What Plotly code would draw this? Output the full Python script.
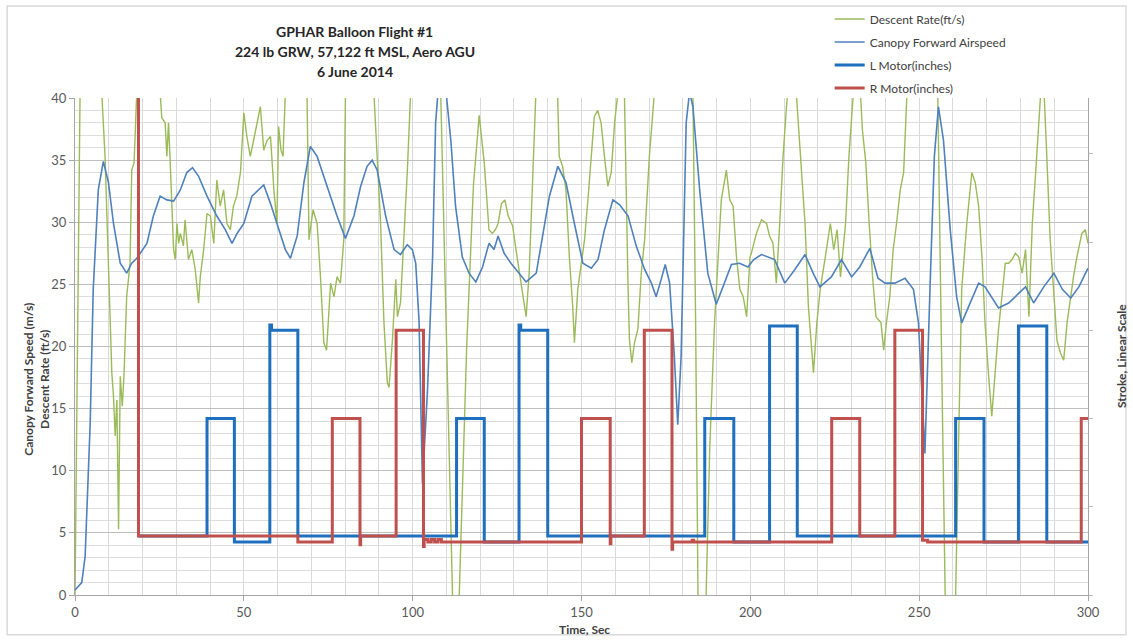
import plotly.graph_objects as go

# ---- Canopy forward airspeed (m/s) ----
airspeed_t = [0, 2.0, 3.0, 4.5, 5.4, 6.9, 8.4, 9.9, 11.4, 13.4, 15.3, 16.8, 18.3, 19.3, 21.3, 23.2,
              25.2, 27.2, 29.2, 31.2, 33.1, 34.8, 36.6, 39.1, 42.0, 44.5, 46.5, 48.0, 50.0, 52.4,
              54.4, 55.9, 57.9, 60.3, 62.3, 63.8, 65.8, 67.8, 69.7, 71.7, 73.7, 75.7, 77.6, 80.1,
              82.6, 84.6, 86.5, 88.0, 89.5, 92.0, 94.5, 96.4, 98.4, 99.9, 100.9, 101.9, 102.9,
              104.4, 105.9, 106.8, 107.8, 108.8, 109.7, 111.3, 112.7, 114.7, 116.7, 118.7, 120.7,
              122.6, 124.1, 125.3, 127.1, 129.1, 131.1, 133.6, 136.6, 138.5, 140.5, 143.0, 145.4,
              147.9, 150.4, 152.9, 154.9, 156.8, 159.3, 161.3, 163.8, 166.2, 168.7, 170.7, 172.1,
              173.6, 174.8, 176.1, 177.5, 178.5, 179.5, 181.0, 182.0, 183.0, 185.0, 187.4, 189.9,
              191.9, 194.4, 196.8, 199.3, 201.0, 203.3, 207.2, 210.2, 213.2, 216.2, 218.6, 220.6,
              224.0, 227.0, 230.0, 232.4, 235.4, 237.8, 239.9, 242.8, 245.8, 248.3, 249.8, 251.7,
              253.2, 254.5, 255.7, 257.2, 259.2, 261.1, 262.6, 264.6, 267.6, 269.5, 272.0, 273.5,
              276.5, 279.5, 281.5, 283.9, 286.9, 289.9, 292.4, 294.9, 297.3, 300.0]
airspeed = [0.4, 1.0, 3.1, 13.8, 24.6, 32.6, 34.9, 33.2, 29.9, 26.7, 25.9, 26.7, 27.1, 27.5, 28.3, 30.5,
            32.1, 31.8, 31.7, 32.6, 34.0, 34.4, 33.7, 32.1, 30.5, 29.4, 28.3, 29.1, 29.9, 32.1,
            32.6, 33.0, 31.5, 29.4, 27.8, 27.1, 28.9, 33.2, 36.1, 35.3, 33.7, 32.1, 30.5, 28.7,
            30.5, 32.9, 34.5, 35.0, 34.2, 30.5, 27.8, 27.4, 28.2, 27.8, 26.7, 22.0, 9.0,
            16.5, 27.2, 38.0, 41.5, 42.0, 41.0, 36.6, 31.3, 27.2, 25.9, 25.2, 26.4,
            28.3, 27.8, 28.9, 27.5, 26.7, 26.0, 25.2, 25.9, 28.9, 32.1, 34.5, 33.2,
            29.9, 26.7, 26.3, 27.0, 29.4, 31.8, 31.4, 30.5, 28.1, 26.2, 25.1, 24.0,
            25.4, 26.6, 25.1, 19.2, 13.7, 19.2, 38.0, 40.5, 39.3, 32.6, 25.9, 23.4,
            24.8, 26.6, 26.7, 26.4, 27.0, 27.4, 27.0, 25.1, 26.2, 27.4, 25.9, 24.8,
            25.6, 27.0, 25.6, 26.4, 27.9, 25.5, 25.1, 25.1, 25.5, 24.6, 21.9, 11.4,
            24.6, 35.3, 39.3, 36.6, 29.4, 24.0, 21.9, 23.2, 25.1, 24.8, 23.8, 23.1,
            23.5, 24.3, 24.8, 23.5, 24.8, 25.9, 24.6, 23.9, 24.8, 26.3]

# ---- Descent rate (ft/s) ----
descent_t = [0, 0.8, 1.5, 4.5, 7.9, 8.9, 9.9, 10.4, 10.9, 11.4, 11.9, 12.4, 12.9, 13.4, 14.0, 14.5,
             15.3, 16.3, 16.8, 17.5, 18.3, 21.7, 25.2, 25.7, 26.7, 27.2, 27.7, 28.2, 28.7, 29.2,
             29.7, 30.2, 30.7, 31.2, 32.1, 32.6, 33.6, 34.6, 35.6, 36.6, 37.1, 38.1, 39.1, 40.1,
             41.1, 42.0, 43.0, 44.0, 45.0, 46.0, 46.9, 47.9, 49.0, 50.0, 50.9, 51.9, 52.9, 53.9,
             54.9, 55.9, 56.9, 57.9, 58.9, 59.8, 60.3, 61.0, 61.6, 62.3, 65.5, 68.7, 69.3, 70.5,
             71.7, 72.7, 73.7, 74.5, 75.7, 76.7, 77.6, 78.6, 79.6, 80.1, 84.0, 88.5, 89.5, 90.5,
             91.5, 92.5, 93.0, 94.0, 95.0, 95.5, 96.4, 97.4, 98.4, 99.4, 104.0, 108.3, 110.0,
             111.8, 112.8, 113.8, 116.0, 118.0, 119.7, 121.2, 122.6, 123.6, 124.5, 125.3, 126.3,
             127.3, 128.3, 129.6, 130.6, 131.6, 132.5, 133.6, 134.5, 135.5, 136.5, 139.7, 142.9,
             143.4, 144.4, 145.4, 146.4, 147.4, 147.9, 148.9, 149.9, 150.9, 151.9, 152.9, 153.8,
             154.8, 155.8, 156.8, 157.8, 158.8, 159.8, 160.8, 161.7, 162.7, 163.2, 163.8, 164.2,
             164.9, 165.7, 166.7, 167.7, 168.7, 170.1, 171.6, 177.0, 183.0, 183.8, 184.5, 185.7,
             186.9, 188.0, 189.4, 191.4, 192.9, 193.9, 194.9, 195.9, 196.9, 197.9, 198.9, 199.9,
             200.3, 201.8, 203.3, 204.8, 205.7, 206.7, 207.7, 208.7, 209.7, 210.7, 212.5, 214.2,
             215.2, 216.2, 217.2, 218.2, 218.7, 219.7, 220.7, 222.2, 223.7, 224.7, 225.7, 226.7,
             228.2, 229.2, 230.2, 231.7, 233.2, 234.2, 235.2, 236.2, 237.2, 238.7, 239.5, 240.3,
             241.3, 242.3, 243.3, 244.4, 245.4, 246.4, 250.5, 255.5, 256.6, 257.7, 259.2, 260.8,
             261.8, 262.6, 264.1, 265.6, 266.6, 267.6, 268.6, 269.5, 270.5, 271.5, 272.5, 273.5,
             274.5, 275.5, 276.5, 277.5, 278.5, 279.5, 280.5, 281.5, 282.5, 283.5, 284.5, 285.4,
             286.6, 287.8, 288.8, 289.8, 290.8, 291.8, 292.8, 293.8, 294.8, 295.7, 296.7, 298.2,
             299.2, 300.0]
descent = [0, 20.0, 40.5, 50.0, 40.5, 35.3, 27.2, 21.9, 17.9, 16.0, 12.8, 15.7, 5.3, 17.6, 15.2, 17.6,
           24.0, 26.7, 34.2, 34.8, 40.5, 50.0, 40.5, 38.4, 38.0, 35.3, 38.0, 34.8, 31.3, 27.8,
           27.0, 29.9, 28.3, 29.1, 28.1, 30.2, 27.0, 27.8, 26.2, 23.5, 25.6, 27.8, 30.7, 30.5,
           28.3, 33.4, 31.3, 32.6, 29.9, 29.4, 31.3, 32.1, 34.0, 38.8, 36.9, 35.3, 36.6, 38.0,
           39.3, 35.8, 36.6, 36.9, 32.6, 29.9, 37.7, 35.8, 35.3, 40.5, 50.0, 40.5, 28.6, 31.0,
           29.9, 25.6, 20.3, 19.7, 25.1, 24.0, 25.6, 25.1, 28.6, 40.5, 50.0, 40.5, 35.3, 29.9,
           21.9, 17.1, 16.7, 20.5, 25.4, 22.4, 23.5, 28.6, 34.0, 40.5, 50.0, 40.5, 20.0,
           0, -4.0, 0, 20.0, 33.0, 38.6, 34.8, 29.4, 29.1, 29.4, 29.9, 31.5,
           31.8, 30.5, 29.7, 27.8, 25.9, 24.6, 22.4, 25.9, 32.6, 40.5, 50.0, 40.5,
           35.3, 34.5, 32.6, 27.2, 23.2, 20.3, 24.6, 26.7, 28.6, 31.8, 35.3, 38.5,
           39.0, 38.0, 35.3, 32.9, 34.0, 38.0, 40.5, 45.0, 40.5, 32.6, 24.6, 20.5,
           18.7, 20.3, 21.4, 25.9, 28.6, 35.3, 40.5, 50.0, 40.5, 21.9, 0, -4.0,
           0, 12.0, 21.9, 31.8, 34.2, 31.8, 31.3, 27.2, 24.6, 24.0, 22.4, 27.2,
           27.5, 29.1, 30.2, 29.9, 28.9, 28.3, 25.1, 29.9, 35.3, 39.3, 45.0, 38.0,
           34.0, 29.9, 23.2, 19.2, 17.9, 21.9, 24.6, 27.2, 29.9, 27.8, 29.4, 25.6,
           29.9, 35.3, 39.3, 45.0, 37.4, 34.8, 29.9, 25.6, 22.4, 21.9, 19.7, 21.9,
           24.0, 27.8, 29.9, 32.6, 34.0, 40.5, 50.0, 40.5, 20.0, 0, -4.0, 0,
           14.0, 24.6, 29.9, 34.0, 33.2, 31.3, 27.2, 21.9, 17.9, 14.4, 17.9, 21.4,
           24.0, 26.7, 26.7, 27.0, 27.5, 27.2, 25.9, 27.8, 22.4, 29.9, 34.0, 38.5,
           43.0, 35.3, 28.6, 24.6, 20.5, 19.5, 18.9, 21.9, 24.0, 25.6, 27.2, 29.1,
           29.4, 28.3]

# ---- Motor strokes (inches), step changes ----
l_motor_t = [18.8, 39.1, 47.2, 57.7, 58.2, 66.0, 113.0, 121.2, 131.5, 132.0, 140.0, 186.5, 195.1,
             205.7, 213.9, 260.8, 269.2, 279.4, 287.8, 300.0]
l_motor = [0.67, 2.0, 0.6, 3.06, 3.0, 0.67, 2.0, 0.6, 3.06, 3.0, 0.67, 2.0, 0.6,
           3.05, 0.67, 2.0, 0.6, 3.05, 0.6, 0.6]

r_motor_t = [18.6, 18.8, 66.0, 76.2, 84.4, 84.6, 95.1, 103.2, 103.4, 104.5, 105.5, 106.5, 107.5,
             108.5, 150.0, 158.5, 158.7, 168.6, 176.8, 177.0, 182.8, 183.2, 224.1, 232.4, 242.8,
             251.0, 252.5, 254.0, 298.0, 300.0]
r_motor = [6.0, 0.67, 0.6, 2.0, 0.57, 0.67, 3.0, 0.55, 0.63, 0.6, 0.63, 0.6, 0.63,
           0.6, 2.0, 0.58, 0.67, 3.0, 0.52, 0.6, 0.62, 0.6, 2.0, 0.67, 3.0,
           0.62, 0.6, 0.6, 2.0, 2.0]

x_ticks = [0, 50, 100, 150, 200, 250, 300]
title_lines = ["GPHAR Balloon Flight #1", "224 lb GRW, 57,122 ft MSL, Aero AGU", "6 June 2014"]

FONT = "Lato, 'Open Sans', sans-serif"
GREEN = "#9BBB59"
AIR_BLUE = "#4F81BD"
L_BLUE = "#1F6FBF"
RED = "#C0504D"

fig = go.Figure()
fig.add_trace(go.Scatter(x=descent_t, y=descent, mode="lines", name="Descent Rate(ft/s)",
                         line=dict(color=GREEN, width=1.4), legendgroup="a"))
fig.add_trace(go.Scatter(x=airspeed_t, y=airspeed, mode="lines", name="Canopy Forward Airspeed",
                         line=dict(color=AIR_BLUE, width=1.6), legendgroup="b"))
fig.add_trace(go.Scatter(x=l_motor_t, y=l_motor, mode="lines", name="L Motor(inches)",
                         line=dict(color=L_BLUE, width=3, shape="hv"), yaxis="y2", legendgroup="c"))
fig.add_trace(go.Scatter(x=r_motor_t, y=r_motor, mode="lines", name="R Motor(inches)",
                         line=dict(color=RED, width=3, shape="hv"), yaxis="y2", legendgroup="d"))

fig.update_layout(
    width=1133, height=641,
    margin=dict(l=75, r=45, t=98, b=46, autoexpand=False),
    paper_bgcolor="white", plot_bgcolor="white",
    font=dict(family=FONT, size=13, color="#595959"),
    showlegend=True,
    legend=dict(x=0.745, y=1.188, xanchor="left", yanchor="top", tracegroupgap=4,
                font=dict(size=12, color="#404040"), bgcolor="rgba(0,0,0,0)"),
    xaxis=dict(range=[0, 300], tickvals=x_ticks, ticks="outside", ticklen=5, tickcolor="#A6A6A6",
               showline=True, linecolor="#A6A6A6", showgrid=False, zeroline=False,
               minor=dict(dtick=10, showgrid=True, gridcolor="#D9D9D9", gridwidth=1)),
    yaxis=dict(range=[0, 40], dtick=5, ticks="outside", ticklen=5, tickcolor="#A6A6A6",
               showline=True, linecolor="#A6A6A6", gridcolor="#BFBFBF", gridwidth=1, zeroline=False,
               minor=dict(dtick=1, showgrid=True, gridcolor="#DEDEDE", gridwidth=1)),
    yaxis2=dict(range=[0, 40 / 7.1], dtick=1, overlaying="y", side="right", showticklabels=False,
                ticks="outside", ticklen=4, tickcolor="#BFBFBF", showline=True, linecolor="#A6A6A6",
                showgrid=False, zeroline=False),
)

# chart frame
fig.add_shape(type="rect", xref="paper", yref="paper", x0=-0.067, x1=1.0375, y0=-0.08, y1=1.185,
              line=dict(color="#D9D9D9", width=1.5), fillcolor="rgba(0,0,0,0)", layer="below")

# three-line chart title
for line_text, ty in zip(title_lines, [1.1347, 1.0945, 1.0543]):
    fig.add_annotation(xref="paper", yref="paper", x=0.2764, y=ty, xanchor="center", yanchor="middle",
                       showarrow=False, text="<b>" + line_text + "</b>",
                       font=dict(size=14, color="#262626", family=FONT))

fig.add_annotation(xref="paper", yref="paper", x=-0.0375, y=0.433, xanchor="center", yanchor="middle",
                   showarrow=False, textangle=-90,
                   text="<b>Canopy Forward Speed (m/s)<br>Descent Rate (ft/s)</b>",
                   font=dict(size=12, color="#404040", family=FONT), align="center")
fig.add_annotation(xref="paper", yref="paper", x=1.0336, y=0.481, xanchor="center", yanchor="middle",
                   showarrow=False, textangle=-90,
                   text="<b>Stroke, Linear Scale</b>",
                   font=dict(size=12, color="#404040", family=FONT))
fig.add_annotation(xref="paper", yref="paper", x=0.503, y=-0.0696, xanchor="center", yanchor="middle",
                   showarrow=False,
                   text="<b>Time, Sec</b>", font=dict(size=12, color="#404040", family=FONT))

fig.write_html("out.html")
